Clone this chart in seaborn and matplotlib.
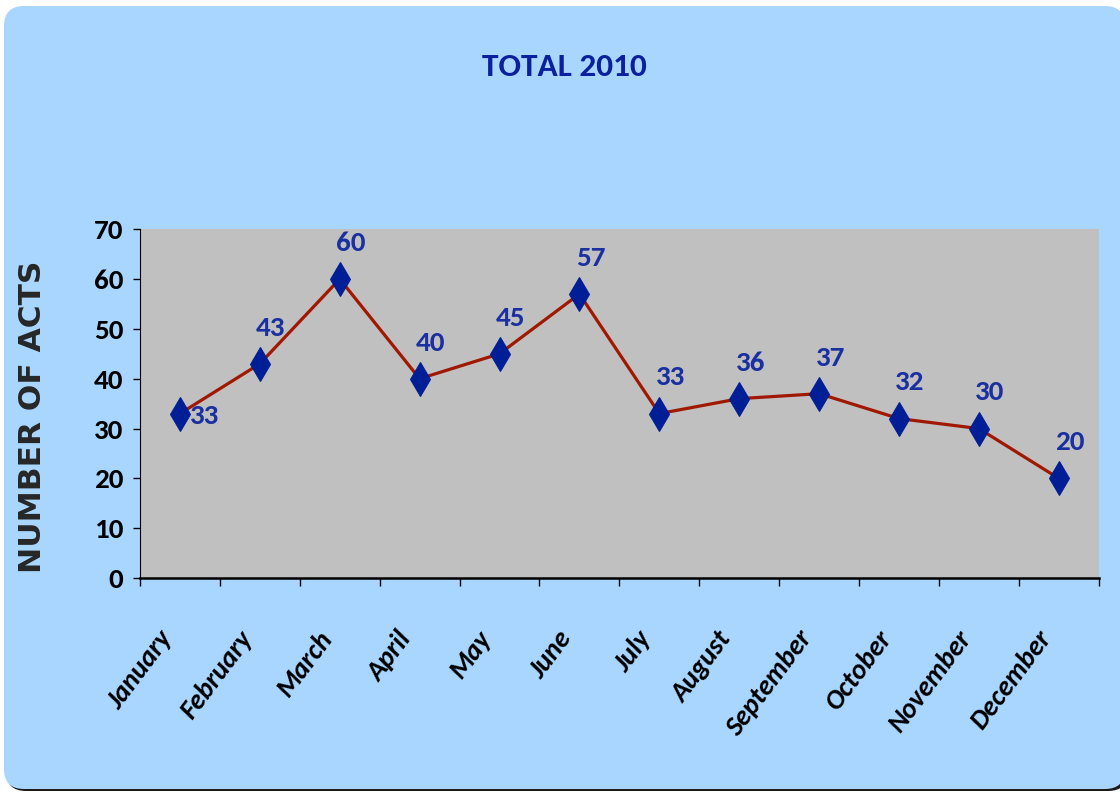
import pandas as pd
import seaborn as sns
import matplotlib.pyplot as plt
import matplotlib.transforms as mtransforms
from matplotlib.patches import FancyBboxPatch

months = ['January', 'February', 'March', 'April', 'May', 'June',
          'July', 'August', 'September', 'October', 'November', 'December']
acts = [33, 43, 60, 40, 45, 57, 33, 36, 37, 32, 30, 20]

df = pd.DataFrame({'month': months, 'acts': acts})
df['pos'] = range(len(months))

sns.set_style('white')
plt.rcParams['font.family'] = ['Carlito', 'DejaVu Sans']
plt.rcParams['text.color'] = 'black'
plt.rcParams['xtick.color'] = 'black'
plt.rcParams['ytick.color'] = 'black'

fig = plt.figure(figsize=(11.2, 7.93), dpi=100)
fig.patch.set_facecolor('white')

# rounded light blue panel (pixel coords), with a dark shadow at bottom/right
shadow = FancyBboxPatch((6, 2), 1122, 782,
                        boxstyle='round,pad=0,rounding_size=20',
                        transform=mtransforms.IdentityTransform(),
                        facecolor='#1a1a1a', edgecolor='none', zorder=-11)
panel = FancyBboxPatch((4, 4), 1121, 783,
                       boxstyle='round,pad=0,rounding_size=20',
                       transform=mtransforms.IdentityTransform(),
                       facecolor='#A8D6FF', edgecolor='none', zorder=-10)
fig.patches.extend([shadow, panel])

ax = fig.add_axes([0.125, 0.271, 0.856, 0.440])
ax.set_facecolor('#C0C0C0')

sns.lineplot(data=df, x='pos', y='acts', ax=ax, color='#A01800',
             linewidth=2.3, marker='d', markersize=17,
             markerfacecolor='#001E96', markeredgecolor='#001E96')

for i, v in enumerate(acts):
    if i == 0:
        ax.annotate(str(v), (i, v), xytext=(18, -2), textcoords='offset points',
                    ha='center', va='center', fontsize=21, fontweight='bold',
                    color='#1A2FA0')
    else:
        ax.annotate(str(v), (i, v), xytext=(8, 26), textcoords='offset points',
                    ha='center', va='center', fontsize=21, fontweight='bold',
                    color='#1A2FA0')

ax.set_xlim(-0.5, 11.5)
ax.set_ylim(0, 70)
ax.set_yticks(range(0, 71, 10))
# major ticks on category boundaries, labels on (slightly shifted) minor ticks
ax.set_xticks([i - 0.5 for i in range(13)], minor=False)
ax.set_xticklabels([])
ax.set_xticks([i - 0.16 for i in range(12)], minor=True)
ax.set_xticklabels(months, minor=True, rotation=53, ha='right', va='center',
                   rotation_mode='anchor', fontsize=20, fontweight='bold',
                   fontstyle='italic')
ax.tick_params(axis='x', which='minor', length=0, pad=40)
ax.tick_params(axis='x', which='major', length=6, width=1, direction='out',
               bottom=True)
ax.tick_params(axis='y', length=5, width=1, direction='out', pad=7,
               left=True, labelsize=21)
for lbl in ax.get_yticklabels():
    lbl.set_fontweight('bold')

for side in ['top', 'right']:
    ax.spines[side].set_visible(False)
ax.spines['left'].set_color('black')
ax.spines['bottom'].set_color('black')
ax.spines['bottom'].set_linewidth(1.8)

ax.set_xlabel('')
ax.set_ylabel('NUMBER OF ACTS', fontsize=22.5, fontweight='bold',
              family=['DejaVu Sans'])
ax.yaxis.set_label_coords(-0.097, 0.463)

fig.text(0.5036, 0.9155, 'TOTAL 2010', ha='center', va='center', fontsize=24,
         fontweight='bold', color='#0A209E')

fig.savefig('out.png', dpi=100, facecolor=fig.get_facecolor())
